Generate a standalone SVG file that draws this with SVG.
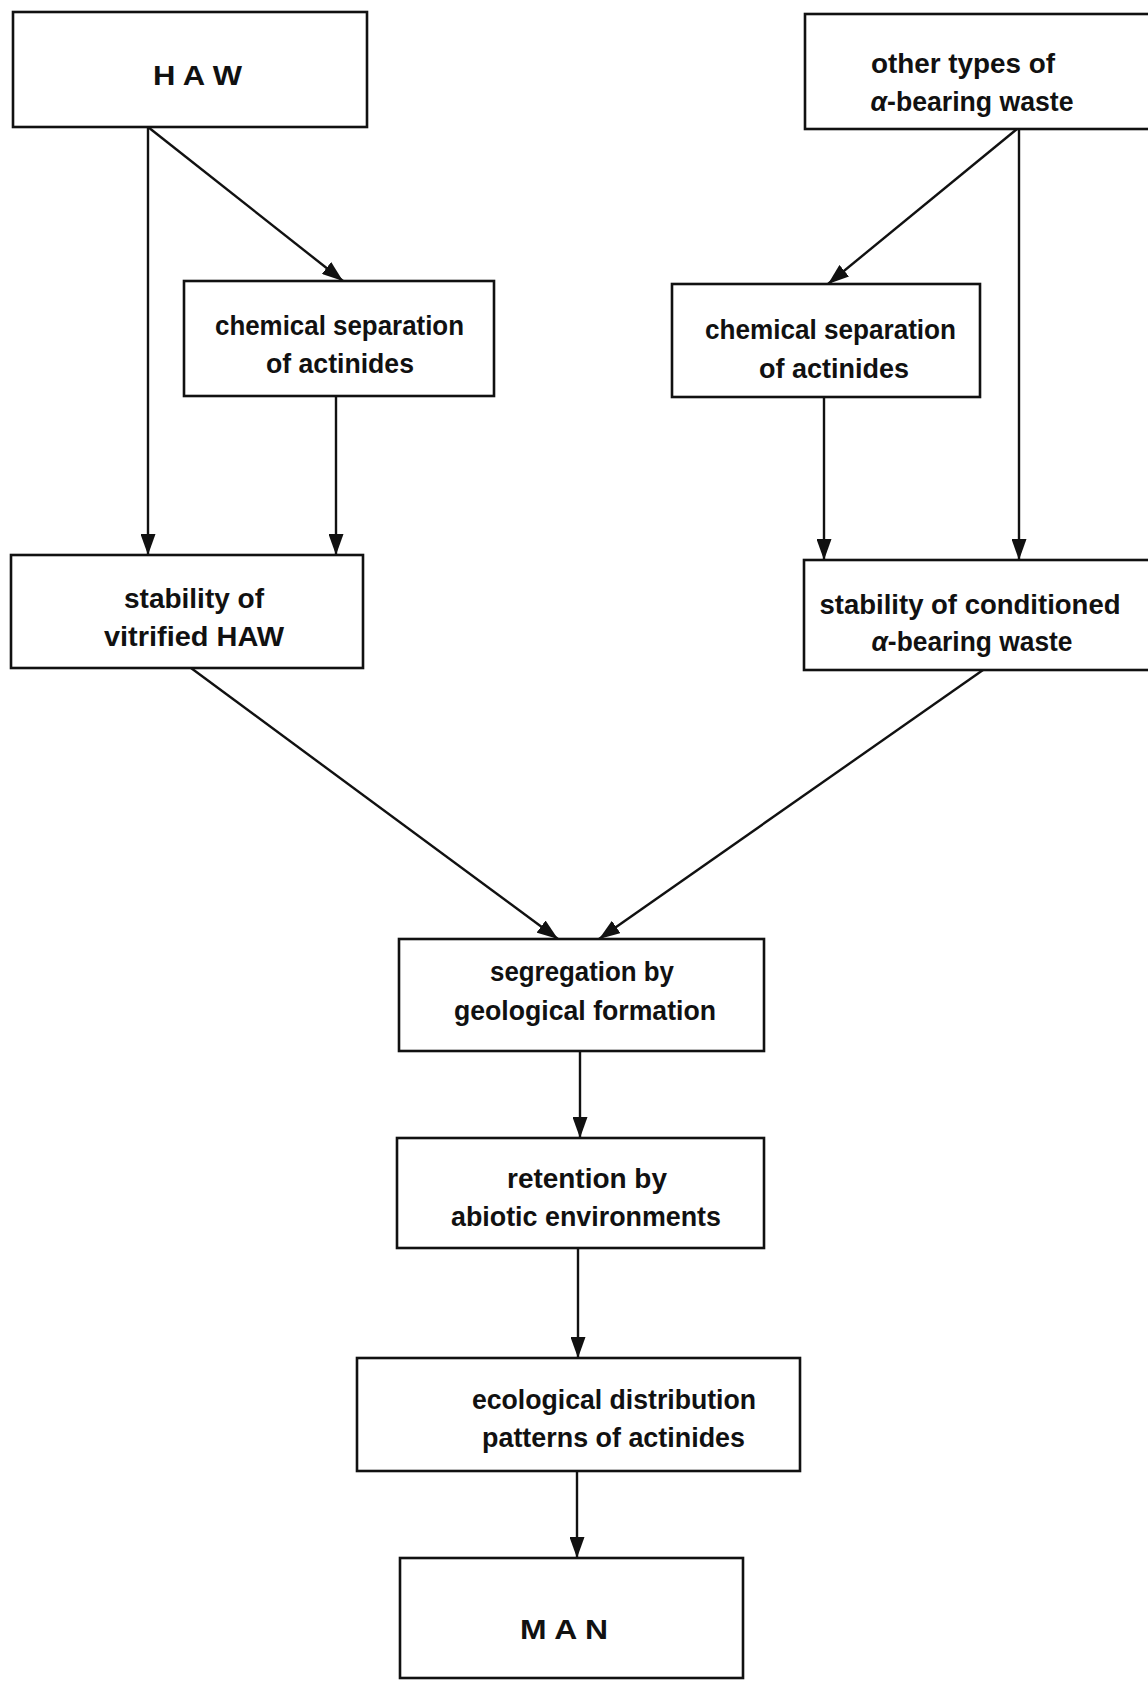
<svg xmlns="http://www.w3.org/2000/svg" width="1148" height="1681" viewBox="0 0 1148 1681">
<style>
.box{fill:#fff;stroke:#111;stroke-width:2.6}
.lbl{font-family:"Liberation Sans",Arial,sans-serif;font-weight:bold;font-size:28px;fill:#111;text-anchor:middle}
.con{stroke:#111;stroke-width:2.4;fill:none;marker-end:url(#ah)}
.it{font-style:italic}
</style>
<defs>
<marker id="ah" viewBox="0 0 21 15" refX="21" refY="7.5" markerWidth="21" markerHeight="15" markerUnits="userSpaceOnUse" orient="auto">
<path d="M0,0 L21,7.5 L0,15 z" fill="#111"/>
</marker>
</defs>
<rect width="1148" height="1681" fill="#fff"/>
<g id="connectors">
<line class="con" x1="148" y1="127" x2="148" y2="555"/>
<line class="con" x1="148" y1="127" x2="343" y2="281"/>
<line class="con" x1="336" y1="396" x2="336" y2="555"/>
<line class="con" x1="1017" y1="129" x2="828" y2="284"/>
<line class="con" x1="1019" y1="129" x2="1019" y2="560"/>
<line class="con" x1="824" y1="397" x2="824" y2="560"/>
<line class="con" x1="191" y1="668" x2="558" y2="939"/>
<line class="con" x1="983" y1="670" x2="599" y2="939"/>
<line class="con" x1="580" y1="1051" x2="580" y2="1138"/>
<line class="con" x1="578" y1="1248" x2="578" y2="1358"/>
<line class="con" x1="577" y1="1471" x2="577" y2="1558"/>
</g>
<g id="haw">
<rect class="box" x="13" y="12" width="354" height="115"/>
<text class="lbl" x="197.5" y="85" textLength="89" lengthAdjust="spacingAndGlyphs">H A W</text>
</g>
<g id="other-waste">
<rect class="box" x="805" y="14" width="360" height="115"/>
<text class="lbl" x="963" y="73" textLength="184" lengthAdjust="spacingAndGlyphs">other types of</text>
<text class="lbl" x="972" y="111" textLength="203" lengthAdjust="spacingAndGlyphs"><tspan class="it">α</tspan>-bearing waste</text>
</g>
<g id="chem-sep-left">
<rect class="box" x="184" y="281" width="310" height="115"/>
<text class="lbl" x="339.5" y="335" textLength="249" lengthAdjust="spacingAndGlyphs">chemical separation</text>
<text class="lbl" x="340" y="373" textLength="148" lengthAdjust="spacingAndGlyphs">of actinides</text>
</g>
<g id="chem-sep-right">
<rect class="box" x="672" y="284" width="308" height="113"/>
<text class="lbl" x="830.5" y="339" textLength="251" lengthAdjust="spacingAndGlyphs">chemical separation</text>
<text class="lbl" x="834" y="378" textLength="150" lengthAdjust="spacingAndGlyphs">of actinides</text>
</g>
<g id="stability-vitrified">
<rect class="box" x="11" y="555" width="352" height="113"/>
<text class="lbl" x="194" y="608" textLength="140" lengthAdjust="spacingAndGlyphs">stability of</text>
<text class="lbl" x="194" y="646" textLength="180" lengthAdjust="spacingAndGlyphs">vitrified HAW</text>
</g>
<g id="stability-conditioned">
<rect class="box" x="804" y="560" width="360" height="110"/>
<text class="lbl" x="970" y="614" textLength="301" lengthAdjust="spacingAndGlyphs">stability of conditioned</text>
<text class="lbl" x="972" y="651" textLength="201" lengthAdjust="spacingAndGlyphs"><tspan class="it">α</tspan>-bearing waste</text>
</g>
<g id="segregation">
<rect class="box" x="399" y="939" width="365" height="112"/>
<text class="lbl" x="582" y="981" textLength="184" lengthAdjust="spacingAndGlyphs">segregation by</text>
<text class="lbl" x="585" y="1020" textLength="262" lengthAdjust="spacingAndGlyphs">geological formation</text>
</g>
<g id="retention">
<rect class="box" x="397" y="1138" width="367" height="110"/>
<text class="lbl" x="587" y="1188" textLength="160" lengthAdjust="spacingAndGlyphs">retention by</text>
<text class="lbl" x="586" y="1226" textLength="270" lengthAdjust="spacingAndGlyphs">abiotic environments</text>
</g>
<g id="ecological">
<rect class="box" x="357" y="1358" width="443" height="113"/>
<text class="lbl" x="614" y="1409" textLength="284" lengthAdjust="spacingAndGlyphs">ecological distribution</text>
<text class="lbl" x="613.5" y="1447" textLength="263" lengthAdjust="spacingAndGlyphs">patterns of actinides</text>
</g>
<g id="man">
<rect class="box" x="400" y="1558" width="343" height="120"/>
<text class="lbl" x="564" y="1639" textLength="88" lengthAdjust="spacingAndGlyphs">M A N</text>
</g>
</svg>
